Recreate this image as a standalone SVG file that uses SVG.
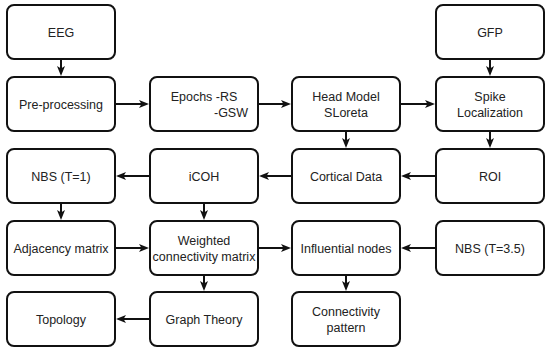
<svg xmlns="http://www.w3.org/2000/svg" width="550" height="351" viewBox="0 0 550 351">
<style>
.box{fill:#fff;stroke:#111;stroke-width:2}
.t{font-family:"Liberation Sans",Arial,sans-serif;font-size:12.5px;fill:#222;text-anchor:middle}
.c{stroke:#111;stroke-width:2;fill:none;marker-end:url(#ah)}
</style>
<defs>
<marker id="ah" markerUnits="userSpaceOnUse" markerWidth="10" markerHeight="8" viewBox="0 0 10 8" refX="6.5" refY="4" orient="auto">
<path d="M0,0 L10,4 L0,8 L2.5,4 z" fill="#111"/>
</marker>
</defs>
<rect width="550" height="351" fill="#fff"/>
<g id="connectors">
<line class="c" x1="61" y1="60" x2="61" y2="72.5"/>
<line class="c" x1="116" y1="104" x2="145.5" y2="104"/>
<line class="c" x1="259" y1="104" x2="287.5" y2="104"/>
<line class="c" x1="401" y1="104" x2="431.5" y2="104"/>
<line class="c" x1="490" y1="60" x2="490" y2="72.5"/>
<line class="c" x1="490" y1="132" x2="490" y2="144.5"/>
<line class="c" x1="346" y1="132" x2="346" y2="144.5"/>
<line class="c" x1="435" y1="176" x2="404.5" y2="176"/>
<line class="c" x1="291" y1="176" x2="262.5" y2="176"/>
<line class="c" x1="149" y1="176" x2="119.5" y2="176"/>
<line class="c" x1="61" y1="204" x2="61" y2="216.5"/>
<line class="c" x1="204" y1="204" x2="204" y2="216.5"/>
<line class="c" x1="116" y1="248" x2="145.5" y2="248"/>
<line class="c" x1="259" y1="248" x2="287.5" y2="248"/>
<line class="c" x1="435" y1="248" x2="404.5" y2="248"/>
<line class="c" x1="346" y1="276" x2="346" y2="287.5"/>
<line class="c" x1="204" y1="276" x2="204" y2="287.5"/>
<line class="c" x1="149" y1="319" x2="119.5" y2="319"/>
</g>
<g id="n-eeg"><rect class="box" x="7" y="5" width="108" height="54" rx="7"/><text class="t" x="61" y="36.5">EEG</text></g>
<g id="n-gfp"><rect class="box" x="436" y="5" width="108" height="54" rx="7"/><text class="t" x="490" y="36.5">GFP</text></g>
<g id="n-pre"><rect class="box" x="7" y="77" width="108" height="54" rx="7"/><text class="t" x="61" y="108.5">Pre-processing</text></g>
<g id="n-epochs"><rect class="box" x="150" y="77" width="108" height="54" rx="7"/><text class="t" x="204" y="100.5">Epochs -RS</text><text class="t" x="248" y="116.5" style="text-anchor:end">-GSW</text></g>
<g id="n-head"><rect class="box" x="292" y="77" width="108" height="54" rx="7"/><text class="t" x="346" y="100.5">Head Model</text><text class="t" x="346" y="116.5">SLoreta</text></g>
<g id="n-spike"><rect class="box" x="436" y="77" width="108" height="54" rx="7"/><text class="t" x="490" y="100.5">Spike</text><text class="t" x="490" y="116.5">Localization</text></g>
<g id="n-nbs1"><rect class="box" x="7" y="149" width="108" height="54" rx="7"/><text class="t" x="61" y="180.5">NBS (T=1)</text></g>
<g id="n-icoh"><rect class="box" x="150" y="149" width="108" height="54" rx="7"/><text class="t" x="204" y="180.5">iCOH</text></g>
<g id="n-cortical"><rect class="box" x="292" y="149" width="108" height="54" rx="7"/><text class="t" x="346" y="180.5">Cortical Data</text></g>
<g id="n-roi"><rect class="box" x="436" y="149" width="108" height="54" rx="7"/><text class="t" x="490" y="180.5">ROI</text></g>
<g id="n-adj"><rect class="box" x="7" y="221" width="108" height="54" rx="7"/><text class="t" x="61" y="252.5">Adjacency matrix</text></g>
<g id="n-weighted"><rect class="box" x="150" y="221" width="108" height="54" rx="7"/><text class="t" x="204" y="244.5">Weighted</text><text class="t" x="204" y="260.5">connectivity matrix</text></g>
<g id="n-influential"><rect class="box" x="292" y="221" width="108" height="54" rx="7"/><text class="t" x="346" y="252.5">Influential nodes</text></g>
<g id="n-nbs35"><rect class="box" x="436" y="221" width="108" height="54" rx="7"/><text class="t" x="490" y="252.5">NBS (T=3.5)</text></g>
<g id="n-topology"><rect class="box" x="7" y="292" width="108" height="54" rx="7"/><text class="t" x="61" y="323.5">Topology</text></g>
<g id="n-graph"><rect class="box" x="150" y="292" width="108" height="54" rx="7"/><text class="t" x="204" y="323.5">Graph Theory</text></g>
<g id="n-pattern"><rect class="box" x="292" y="292" width="108" height="54" rx="7"/><text class="t" x="346" y="315.5">Connectivity</text><text class="t" x="346" y="331.5">pattern</text></g>
</svg>
